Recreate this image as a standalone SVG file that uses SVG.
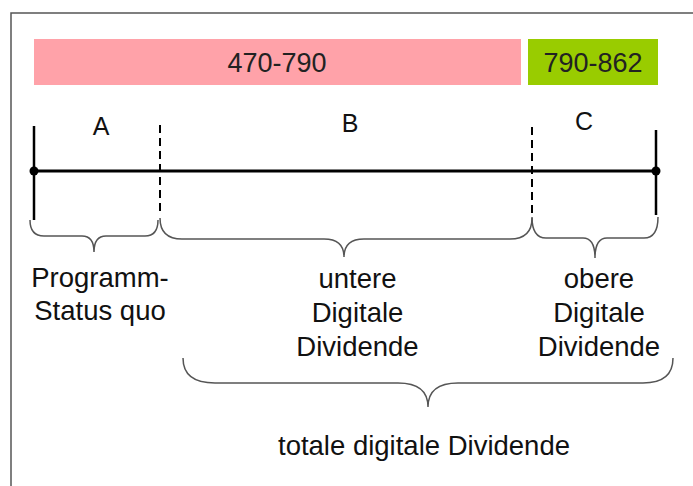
<svg xmlns="http://www.w3.org/2000/svg" width="693" height="486" viewBox="0 0 693 486">
<style>
  .t { font-family: "Liberation Sans", Arial, sans-serif; font-size: 27.5px; fill: #111; text-anchor: middle; }
  .bar { font-family: "Liberation Sans", Arial, sans-serif; font-size: 27px; fill: #222; text-anchor: middle; }
  .brace { fill: none; stroke: #555; stroke-width: 1.5; }
  .axis { stroke: #000; stroke-width: 3; }
  .tick { stroke: #000; stroke-width: 2.5; }
  .dash { stroke: #000; stroke-width: 2; stroke-dasharray: 8 5; }
</style>
<rect x="0" y="0" width="693" height="486" fill="#fff"/>
<rect id="frame" x="11" y="13" width="700" height="490" fill="none" stroke="#555" stroke-width="1.5"/>

<g id="range-470-790">
  <rect x="34" y="39" width="487" height="46" fill="#FFA2A9"/>
  <text class="bar" x="277" y="72">470-790</text>
</g>
<g id="range-790-862">
  <rect x="528" y="39" width="130" height="46" fill="#99CC00"/>
  <text class="bar" x="593" y="72">790-862</text>
</g>

<g id="segment-labels">
  <text class="t" x="101" y="135" style="font-size:25px">A</text>
  <text class="t" x="350" y="132" style="font-size:25px">B</text>
  <text class="t" x="584" y="130" style="font-size:25px">C</text>
</g>

<g id="timeline">
  <line class="axis" x1="34" y1="171" x2="656" y2="171"/>
  <line class="tick" x1="34" y1="126" x2="34" y2="220"/>
  <line class="tick" x1="656" y1="130" x2="656" y2="215"/>
  <line class="dash" x1="160" y1="125" x2="160" y2="215"/>
  <line class="dash" x1="532" y1="127" x2="532" y2="217"/>
  <circle cx="34" cy="171" r="4.5" fill="#000"/>
  <circle cx="656" cy="171" r="4.5" fill="#000"/>
</g>

<g id="connectors">
  <path class="brace" d="M30 220 Q30 236 44 236 L82 236 Q94 236 94 252 Q94 236 106 236 L145 236 Q158 236 158 220"/>
  <path class="brace" d="M160 218 Q160 239 182 239 L324 239 Q344 239 344 257 Q344 239 364 239 L510 239 Q532 239 532 218"/>
  <path class="brace" d="M532 217 Q532 238 546 238 L583 238 Q595 238 595 258 Q595 238 607 238 L644 238 Q658 238 658 217"/>
  <path class="brace" d="M183 358 Q183 383 215 383 L398 383 Q428 383 428 407 Q428 383 458 383 L643 383 Q673 383 673 358"/>
</g>

<g id="label-A">
  <text class="t" x="100" y="287">Programm-</text>
  <text class="t" x="100" y="320">Status quo</text>
</g>
<g id="label-B">
  <text class="t" x="357.5" y="288">untere</text>
  <text class="t" x="357.5" y="322">Digitale</text>
  <text class="t" x="357.5" y="356">Dividende</text>
</g>
<g id="label-C">
  <text class="t" x="599" y="288">obere</text>
  <text class="t" x="599" y="322">Digitale</text>
  <text class="t" x="599" y="356">Dividende</text>
</g>
<g id="label-total">
  <text class="t" x="424" y="455">totale digitale Dividende</text>
</g>
</svg>
